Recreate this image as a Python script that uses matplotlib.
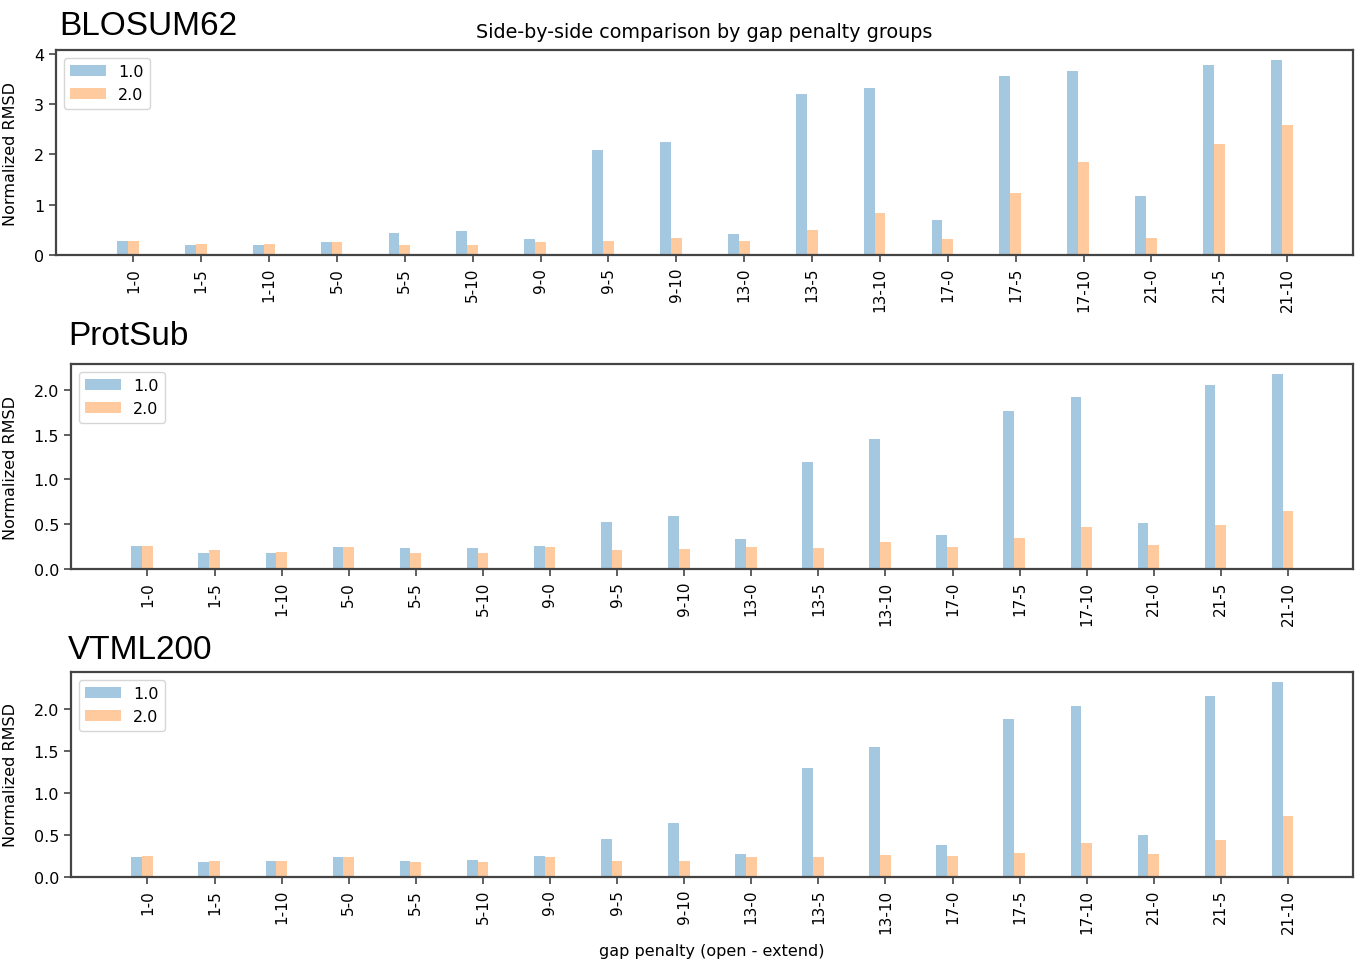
import matplotlib.pyplot as plt
import numpy as np

# gap penalty settings, open-extend
gaps = ["1-0", "1-5", "1-10", "5-0", "5-5", "5-10", "9-0", "9-5", "9-10",
        "13-0", "13-5", "13-10", "17-0", "17-5", "17-10", "21-0", "21-5", "21-10"]
series = ["1.0", "2.0"]

blosum_1 = [0.27, 0.19, 0.19, 0.26, 0.43, 0.47, 0.31, 2.09, 2.25,
            0.42, 3.19, 3.32, 0.69, 3.55, 3.65, 1.17, 3.78, 3.88]
blosum_2 = [0.27, 0.21, 0.21, 0.26, 0.19, 0.19, 0.26, 0.28, 0.33,
            0.27, 0.49, 0.83, 0.31, 1.24, 1.84, 0.33, 2.21, 2.59]

protsub_1 = [0.255, 0.18, 0.18, 0.245, 0.23, 0.23, 0.255, 0.52, 0.59,
             0.33, 1.20, 1.45, 0.375, 1.76, 1.92, 0.51, 2.06, 2.18]
protsub_2 = [0.255, 0.21, 0.19, 0.245, 0.18, 0.18, 0.245, 0.21, 0.22,
             0.245, 0.235, 0.30, 0.245, 0.35, 0.465, 0.27, 0.49, 0.65]

vtml_1 = [0.235, 0.18, 0.19, 0.235, 0.19, 0.205, 0.245, 0.455, 0.645,
          0.275, 1.30, 1.54, 0.38, 1.88, 2.03, 0.505, 2.15, 2.32]
vtml_2 = [0.245, 0.195, 0.19, 0.235, 0.18, 0.18, 0.235, 0.19, 0.19,
          0.235, 0.235, 0.26, 0.245, 0.29, 0.40, 0.275, 0.44, 0.73]

W, H = 1362, 962
fig = plt.figure(figsize=(W / 100, H / 100), dpi=100)


def px_axes(left, top, right, bottom):
    return fig.add_axes([left / W, 1 - bottom / H, (right - left) / W, (bottom - top) / H])


def draw(ax, v1, v2, yticks, yfmt, label_x):
    x = np.arange(len(gaps))
    w = 0.16
    ax.bar(x - 0.08 - w / 2, v1, w, color="tab:blue", alpha=0.4, label=series[0])
    ax.bar(x - 0.08 + w / 2, v2, w, color="tab:orange", alpha=0.4, label=series[1])
    ax.set_xlim(-1.14, 17.97)
    ax.set_ylim(0, max(max(v1), max(v2)) * 1.05)
    ax.set_xticks(x)
    ax.set_xticklabels(gaps, rotation=90, fontsize=11)
    ax.set_yticks(yticks)
    ax.set_yticklabels([yfmt.format(t) for t in yticks], fontsize=11.5)
    for s in ax.spines.values():
        s.set_color("#444444")
        s.set_linewidth(1.6)
    ax.tick_params(length=5, width=1.2, color="#444444")
    ax.set_ylabel("Normalized RMSD", fontsize=11.5)
    ax.yaxis.set_label_coords(label_x, 0.5)
    ax.legend(loc="upper left", fontsize=11.5, handlelength=2.2, fancybox=True)


ax1 = px_axes(56, 51, 1353, 256)
draw(ax1, blosum_1, blosum_2, [0, 1, 2, 3, 4], "{:.0f}", (18 - 56) / 1297)
ax1.set_title("Side-by-side comparison by gap penalty groups", fontsize=13.8, pad=9)

ax2 = px_axes(71, 365, 1353, 570)
draw(ax2, protsub_1, protsub_2, [0, 0.5, 1.0, 1.5, 2.0], "{:.1f}", (18 - 71) / 1282)

ax3 = px_axes(71, 673, 1353, 878)
draw(ax3, vtml_1, vtml_2, [0, 0.5, 1.0, 1.5, 2.0], "{:.1f}", (18 - 71) / 1282)
ax3.set_xlabel("gap penalty (open - extend)", fontsize=11.5, labelpad=7)

# matrix names above each panel
big = dict(fontsize=24, family="Liberation Sans", va="baseline", ha="left")
fig.text(59 / W, 1 - 35 / H, "BLOSUM62", **big)
fig.text(68 / W, 1 - 345 / H, "ProtSub", **big)
fig.text(68 / W, 1 - 659 / H, "VTML200", **big)

fig.savefig("out.png", dpi=100)
